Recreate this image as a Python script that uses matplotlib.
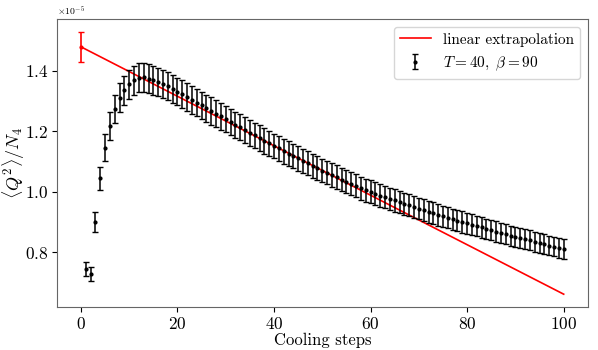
import numpy as np
import matplotlib; matplotlib.use("Agg")
import matplotlib.pyplot as plt

plt.rcParams.update({
    "font.family": "serif",
    "font.serif": ["cmr10", "DejaVu Serif"],
    "mathtext.fontset": "cm",
    "axes.unicode_minus": False,
    "axes.formatter.use_mathtext": True,
    "font.size": 11,
})

# ---------- data (units of 1e-5) ----------
steps = list(range(1, 101))
q2 = [0.743, 0.727, 0.899, 1.044, 1.146, 1.218, 1.273, 1.310, 1.336, 1.356,
      1.369, 1.376, 1.378, 1.374, 1.369, 1.363, 1.357, 1.349, 1.340, 1.331,
      1.322, 1.312, 1.303, 1.294, 1.285, 1.276, 1.267, 1.258, 1.249, 1.240,
      1.231, 1.222, 1.213, 1.204, 1.195, 1.186, 1.177, 1.168, 1.160, 1.151,
      1.143, 1.134, 1.126, 1.118, 1.110, 1.102, 1.094, 1.086, 1.078, 1.070,
      1.063, 1.055, 1.048, 1.040, 1.033, 1.026, 1.019, 1.012, 1.005, 0.999,
      0.993, 0.987, 0.982, 0.976, 0.971, 0.965, 0.960, 0.955, 0.949, 0.944,
      0.939, 0.934, 0.929, 0.924, 0.919, 0.914, 0.909, 0.904, 0.900, 0.895,
      0.891, 0.886, 0.882, 0.877, 0.873, 0.868, 0.864, 0.860, 0.855, 0.851,
      0.847, 0.843, 0.839, 0.835, 0.831, 0.826, 0.822, 0.818, 0.814, 0.810]
q2_err = [0.023, 0.023, 0.033, 0.039, 0.044, 0.046, 0.047, 0.048, 0.048, 0.048,
          0.048, 0.048, 0.048, 0.048, 0.048, 0.047, 0.047, 0.047, 0.047, 0.046,
          0.046, 0.046, 0.046, 0.045, 0.045, 0.045, 0.045, 0.044, 0.044, 0.044,
          0.044, 0.043, 0.043, 0.043, 0.043, 0.042, 0.042, 0.042, 0.042, 0.041,
          0.041, 0.041, 0.041, 0.041, 0.040, 0.040, 0.040, 0.040, 0.040, 0.039,
          0.039, 0.039, 0.039, 0.039, 0.039, 0.038, 0.038, 0.038, 0.038, 0.038,
          0.038, 0.037, 0.037, 0.037, 0.037, 0.037, 0.037, 0.036, 0.036, 0.036,
          0.036, 0.036, 0.036, 0.036, 0.035, 0.035, 0.035, 0.035, 0.035, 0.035,
          0.035, 0.034, 0.034, 0.034, 0.034, 0.034, 0.034, 0.034, 0.033, 0.033,
          0.033, 0.033, 0.033, 0.033, 0.033, 0.033, 0.032, 0.032, 0.032, 0.032]

fit_x = [0, 100]
fit_y = [1.479, 0.661]
extrap_val = 1.479
extrap_err = 0.049

SCALE = 1e-5

fig = plt.figure(figsize=(5.98, 3.5), dpi=100)
ax = fig.add_axes([0.095, 0.122, 0.888, 0.824])

ax.plot(fit_x, np.array(fit_y) * SCALE, color="red", lw=1.2,
        label="linear extrapolation")
ax.errorbar([0], [extrap_val * SCALE], yerr=[extrap_err * SCALE], fmt=".",
            color="red", ms=4, capsize=2, elinewidth=1.2)
ax.errorbar(steps, np.array(q2) * SCALE, yerr=np.array(q2_err) * SCALE,
            fmt=".", color="black", ms=4, capsize=2, elinewidth=1.1,
            label=r"$T=40,\ \beta=90$")

ax.set_xlabel("Cooling steps", fontsize=12, labelpad=1)
ax.set_ylabel(r"$\langle Q^2\rangle/N_4$", fontsize=13)
ax.yaxis.set_label_coords(-0.057, 0.5)
ax.tick_params(labelsize=12.5, pad=2.5)
ax.ticklabel_format(axis="y", useMathText=True)
ax.yaxis.get_offset_text().set_fontsize(7)
for s in ax.spines.values():
    s.set_color("0.4")
ax.legend(loc="upper right", fontsize=11)

fig.savefig("out.png", dpi=100)
